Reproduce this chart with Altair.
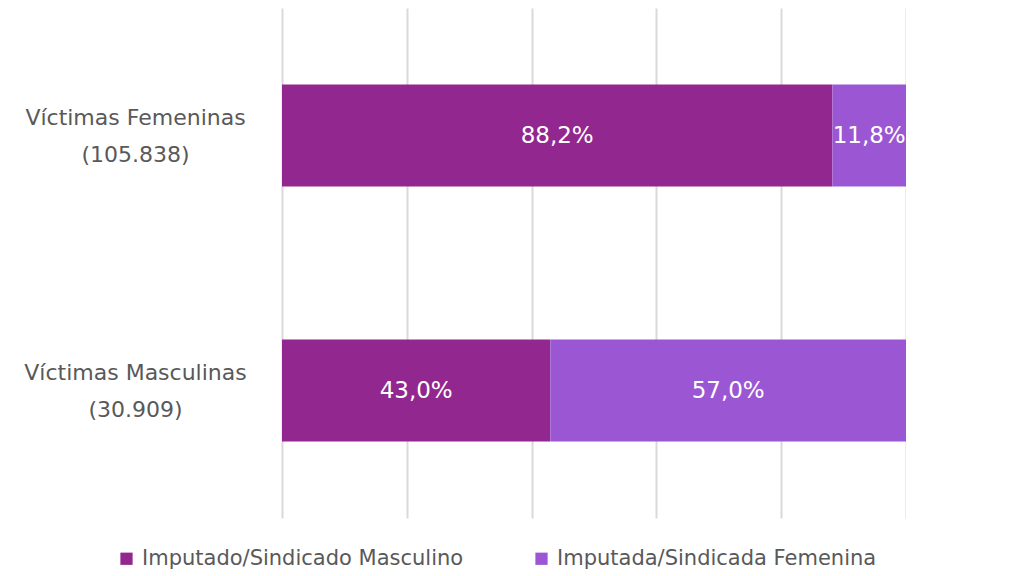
import altair as alt
import pandas as pd

categories = ["Víctimas Femeninas|(105.838)", "Víctimas Masculinas|(30.909)"]
series = ["Imputado/Sindicado Masculino", "Imputada/Sindicada Femenina"]
masc_values = [88.2, 43.0]
fem_values = [11.8, 57.0]
colors = ["#92278F", "#9B57D3"]

rows = []
for cat, m, f in zip(categories, masc_values, fem_values):
    start = 0.0
    for i, (s, v) in enumerate(zip(series, [m, f])):
        rows.append({
            "cat": cat, "serie": s, "order": i,
            "start": start / 100, "end": (start + v) / 100,
            "mid": (start + v / 2) / 100,
            "label": f"{v:.1f}%".replace(".", ","),
        })
        start += v
df = pd.DataFrame(rows)

FONT = "DejaVu Sans"
y_enc = alt.Y("cat:N", sort=categories, title=None,
              scale=alt.Scale(paddingInner=0.6, paddingOuter=0.3),
              axis=alt.Axis(labelExpr="split(datum.value, '|')", labelAlign="center",
                            labelPadding=147, labelFontSize=22, labelColor="#595959",
                            labelFont=FONT, labelLineHeight=37, ticks=False, domain=False,
                            labelBaseline="middle", labelLimit=0, labelOffset=-18))

bars = alt.Chart(df).mark_bar().encode(
    x=alt.X("start:Q", scale=alt.Scale(domain=[0, 1]), title=None,
            axis=alt.Axis(values=[0, 0.2, 0.4, 0.6, 0.8, 1.0], labels=False, ticks=False,
                          domain=False, grid=True, gridColor="#d9d9d9", gridWidth=2)),
    x2="end:Q",
    y=y_enc,
    color=alt.Color("serie:N", sort=series,
                    scale=alt.Scale(domain=series, range=colors),
                    legend=alt.Legend(title=None, orient="none", direction="horizontal",
                                      legendX=-166, legendY=540, symbolType="square",
                                      symbolSize=150, symbolStrokeWidth=0,
                                      labelFontSize=21, labelColor="#595959", labelFont=FONT,
                                      columnPadding=67, labelOffset=5, labelLimit=0)),
)

text = alt.Chart(df).mark_text(color="white", fontSize=23, font=FONT).encode(
    x=alt.X("mid:Q"),
    y=alt.Y("cat:N", sort=categories),
    text="label:N",
)

chart = (bars + text).properties(
    width=624, height=510,
    autosize=alt.AutoSizeParams(type="none"),
    padding={"left": 274, "top": 0, "right": 0, "bottom": 56},
).configure_view(stroke=None)

chart.save("out.html", embed_options={"renderer": "svg", "actions": False})
